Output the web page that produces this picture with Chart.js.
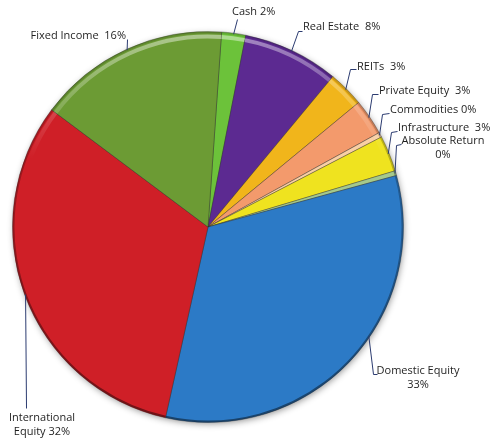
<!DOCTYPE html>
<html>
<head>
<meta charset="utf-8">
<script src="https://cdn.jsdelivr.net/npm/chart.js@4/dist/chart.umd.min.js"></script>
<style>
  html, body { margin: 0; padding: 0; background: #fff; }
  canvas { display: block; }
</style>
</head>
<body>
<canvas id="alloc" width="491" height="441"></canvas>
<script>
// asset allocation, percent of portfolio
const categories = ['Cash', 'Real Estate', 'REITs', 'Private Equity', 'Commodities',
  'Infrastructure', 'Absolute Return', 'Domestic Equity', 'International Equity', 'Fixed Income'];
const allocation = [2, 8, 3, 3, 0.4, 3, 0.4, 33, 32, 16];
const sliceColors = ['#6cc23a', '#5c2a91', '#f1b51b', '#f39a6c', '#f9cfa4',
  '#efe31f', '#a5c98c', '#2c7ac6', '#cf1f27', '#6c9b34'];

// callout placement: text anchor, leader path after the arc point, how the text breaks
const labelLayout = [
  { x: 232, y: 12, align: 'left', lines: n => [n.name + ' ' + n.pct], path: [[237, 19]] },
  { x: 303, y: 27, align: 'left', lines: n => [n.name + '  ' + n.pct], path: [[298, 31], [302, 31]] },
  { x: 357, y: 67, align: 'left', lines: n => [n.name + '  ' + n.pct], path: [[350, 69], [356, 69]] },
  { x: 379, y: 91, align: 'left', lines: n => [n.name + '  ' + n.pct], path: [[372, 94], [378, 94]] },
  { x: 390, y: 110, align: 'left', lines: n => [n.name + ' ' + n.pct], path: [[382, 114], [389, 113]] },
  { x: 398, y: 128, align: 'left', lines: n => [n.name + '  ' + n.pct], path: [[391, 132], [397, 131]] },
  { x: 443, y: 141, align: 'center', lines: n => [n.name, n.pct], path: [[396, 145], [401, 144]] },
  { x: 418, y: 371, align: 'center', lines: n => [n.name, n.pct], path: [[373, 374], [377, 374]], at: 0.42 },
  { x: 42, y: 418, align: 'center', lines: n => ['International', 'Equity ' + n.pct], path: [[26, 408]] },
  { x: 126, y: 36, align: 'right', lines: n => [n.name + '  ' + n.pct], path: [[127, 39]] }
];

const FONT = '11px "Open Sans", "DejaVu Sans", sans-serif';

// soft drop shadow under the whole pie
const pieShadow = {
  id: 'pieShadow',
  beforeDatasetsDraw(chart) {
    const arc = chart.getDatasetMeta(0).data[0];
    if (!arc) return;
    const { x, y, outerRadius } = arc.getProps(['x', 'y', 'outerRadius'], true);
    const ctx = chart.ctx;
    ctx.save();
    ctx.shadowColor = 'rgba(0,0,0,0.45)';
    ctx.shadowBlur = 7;
    ctx.shadowOffsetX = 1;
    ctx.shadowOffsetY = 2;
    ctx.fillStyle = '#777';
    ctx.beginPath();
    ctx.arc(x, y, outerRadius - 1, 0, Math.PI * 2);
    ctx.fill();
    ctx.restore();
  }
};

// bevel: light band just inside the rim near the top, darker rim toward the bottom
const pieBevel = {
  id: 'pieBevel',
  afterDatasetsDraw(chart) {
    const ctx = chart.ctx;
    chart.getDatasetMeta(0).data.forEach(arc => {
      const { x, y, startAngle, endAngle, outerRadius } =
        arc.getProps(['x', 'y', 'startAngle', 'endAngle', 'outerRadius'], true);
      const slice = new Path2D();
      slice.moveTo(x, y);
      slice.arc(x, y, outerRadius, startAngle, endAngle);
      slice.closePath();

      ctx.save();
      ctx.clip(slice);
      const light = ctx.createLinearGradient(0, y - outerRadius, 0, y - outerRadius * 0.35);
      light.addColorStop(0, 'rgba(255,255,255,0.45)');
      light.addColorStop(1, 'rgba(255,255,255,0)');
      ctx.lineWidth = 4;
      ctx.strokeStyle = light;
      ctx.beginPath();
      ctx.arc(x, y, outerRadius - 5, startAngle, endAngle);
      ctx.stroke();

      const dark = ctx.createLinearGradient(0, y - outerRadius, 0, y + outerRadius);
      dark.addColorStop(0, 'rgba(0,0,0,0.12)');
      dark.addColorStop(1, 'rgba(0,0,0,0.45)');
      ctx.lineWidth = 4;
      ctx.strokeStyle = dark;
      ctx.beginPath();
      ctx.arc(x, y, outerRadius, startAngle, endAngle);
      ctx.stroke();
      ctx.restore();
    });
  }
};

// outside labels joined to their slice by thin leader lines
const calloutLabels = {
  id: 'calloutLabels',
  afterDraw(chart) {
    const ctx = chart.ctx;
    const meta = chart.getDatasetMeta(0);
    ctx.save();
    ctx.font = FONT;
    ctx.textBaseline = 'middle';
    meta.data.forEach((arc, i) => {
      const L = labelLayout[i];
      const { x, y, startAngle, endAngle, outerRadius } =
        arc.getProps(['x', 'y', 'startAngle', 'endAngle', 'outerRadius'], true);
      const a = startAngle + (endAngle - startAngle) * (L.at ?? 0.5);
      ctx.strokeStyle = '#2b3b70';
      ctx.lineWidth = 1;
      ctx.beginPath();
      ctx.moveTo(x + Math.cos(a) * (outerRadius - 1), y + Math.sin(a) * (outerRadius - 1));
      L.path.forEach(p => ctx.lineTo(p[0] + 0.5, p[1] + 0.5));
      ctx.stroke();

      const text = L.lines({ name: categories[i], pct: Math.round(allocation[i]) + '%' });
      ctx.fillStyle = '#1f1f1f';
      ctx.textAlign = L.align;
      text.forEach((t, k) => ctx.fillText(t, L.x, L.y + k * 14));
    });
    ctx.restore();
  }
};

new Chart(document.getElementById('alloc'), {
  type: 'pie',
  data: {
    labels: categories,
    datasets: [{
      data: allocation,
      backgroundColor: sliceColors,
      borderColor: 'rgba(40,40,40,0.35)',
      borderWidth: 1
    }]
  },
  options: {
    responsive: false,
    animation: false,
    rotation: 4,
    layout: { padding: { left: 12, top: 31, right: 87, bottom: 18 } },
    plugins: {
      legend: { display: false },
      tooltip: { enabled: false }
    }
  },
  plugins: [pieShadow, pieBevel, calloutLabels]
});
</script>
</body>
</html>
